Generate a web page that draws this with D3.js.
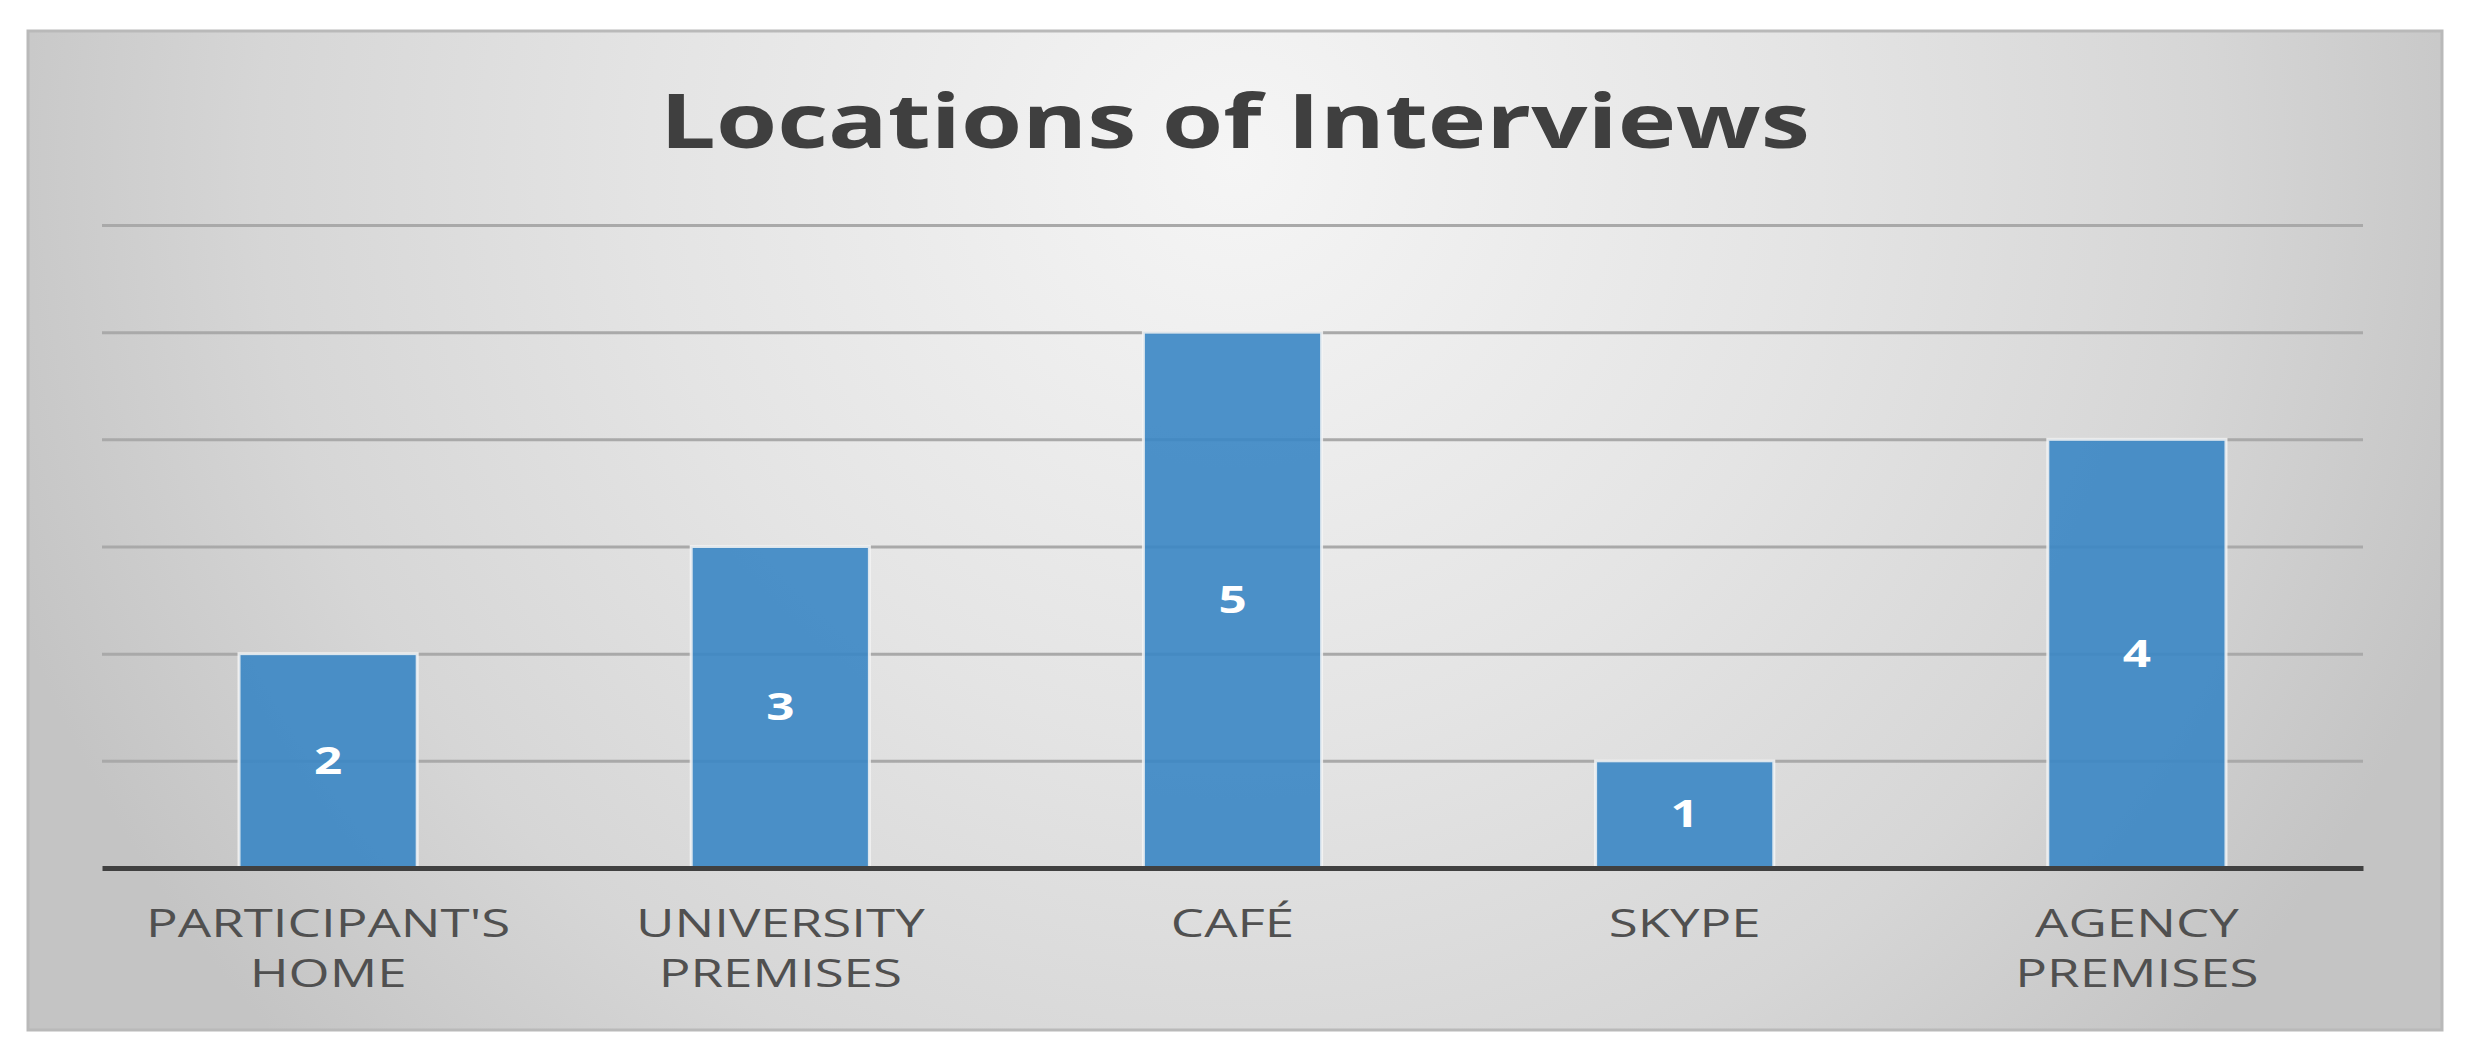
<!DOCTYPE html>
<html>
<head>
<meta charset="utf-8">
<script src="https://cdn.jsdelivr.net/npm/d3@7"></script>
<style>
  body { margin: 0; background: #ffffff; }
  .label text { font-family: "Open Sans", sans-serif; }
</style>
</head>
<body>
<div class="chart"></div>
<script>
var svgWidth = 2470;
var svgHeight = 1048;

// chart data
var categories = ["PARTICIPANT'S HOME", "UNIVERSITY PREMISES", "CAFÉ", "SKYPE", "AGENCY PREMISES"];
var labelLines = [["PARTICIPANT'S", "HOME"], ["UNIVERSITY", "PREMISES"], ["CAFÉ"], ["SKYPE"], ["AGENCY", "PREMISES"]];
var counts = [2, 3, 5, 1, 4];
var yTicks = [0, 1, 2, 3, 4, 5, 6];

var frame = { left: 28, top: 31, right: 2442, bottom: 1030 };
var plot = { left: 102, right: 2363, top: 225, bottom: 868 };
var textStretch = 1.39;

var svg = d3.select(".chart")
  .append("svg")
  .attr("width", svgWidth)
  .attr("height", svgHeight);

// background gradient of the chart area (light near the title, greyer at the sides)
var defs = svg.append("defs");
var grad = defs.append("radialGradient")
  .attr("id", "bg")
  .attr("gradientUnits", "userSpaceOnUse")
  .attr("cx", 1235)
  .attr("cy", 160)
  .attr("r", 1300);
grad.append("stop").attr("offset", "0%").attr("stop-color", "#f5f5f5");
grad.append("stop").attr("offset", "45%").attr("stop-color", "#e4e4e4");
grad.append("stop").attr("offset", "75%").attr("stop-color", "#d6d6d6");
grad.append("stop").attr("offset", "100%").attr("stop-color", "#c4c4c4");

svg.append("rect")
  .attr("x", frame.left)
  .attr("y", frame.top)
  .attr("width", frame.right - frame.left)
  .attr("height", frame.bottom - frame.top)
  .attr("fill", "url(#bg)")
  .attr("stroke", "#b9b9b9")
  .attr("stroke-width", 3);

// scales
var x = d3.scaleBand()
  .domain(categories)
  .range([plot.left, plot.right])
  .paddingInner(0.606)
  .paddingOuter(0.303);

var y = d3.scaleLinear()
  .domain([0, 6])
  .range([plot.bottom, plot.top]);

// gridlines
var grid = svg.append("g")
  .attr("transform", `translate(${plot.left}, 0)`)
  .call(d3.axisLeft(y)
    .tickValues(yTicks.slice(1))
    .tickSize(-(plot.right - plot.left))
    .tickFormat(""));
grid.select(".domain").remove();
grid.selectAll("line")
  .attr("stroke", "#a9a9a9")
  .attr("stroke-width", 3);

// bars
svg.selectAll(".bar")
  .data(counts)
  .enter()
  .append("rect")
  .attr("class", "bar")
  .attr("x", (d, i) => x(categories[i]))
  .attr("y", d => y(d))
  .attr("width", x.bandwidth())
  .attr("height", d => y(0) - y(d))
  .attr("fill", "#3a86c4")
  .attr("fill-opacity", 0.9)
  .attr("stroke", "#f4f4f4")
  .attr("stroke-opacity", 0.85)
  .attr("stroke-width", 3);

// value labels in the middle of each bar
svg.selectAll(".value")
  .data(counts)
  .enter()
  .append("text")
  .attr("class", "value")
  .attr("transform", (d, i) => `translate(${x(categories[i]) + x.bandwidth() / 2}, ${(y(d) + y(0)) / 2 + 13}) scale(1.3, 1)`)
  .attr("text-anchor", "middle")
  .attr("font-family", "'Open Sans', sans-serif")
  .attr("font-weight", "bold")
  .attr("font-size", 38)
  .attr("fill", "#ffffff")
  .text(d => d);

// x axis
var xAxis = svg.append("g")
  .attr("class", "label")
  .attr("transform", `translate(0, ${plot.bottom})`)
  .call(d3.axisBottom(x).tickSize(0).tickFormat(""));
xAxis.select(".domain")
  .attr("stroke", "#404040")
  .attr("stroke-width", 5);

xAxis.selectAll(".tick text").remove();
xAxis.selectAll(".tick").each(function(d, i) {
  var t = d3.select(this).append("text")
    .attr("transform", `scale(${textStretch}, 1)`)
    .attr("text-anchor", "middle")
    .attr("font-size", 38)
    .attr("fill", "#505050");
  labelLines[i].forEach(function(line, j) {
    t.append("tspan")
      .attr("x", 0)
      .attr("y", 69 + j * 50)
      .text(line);
  });
});

// title
var title = svg.append("text")
  .attr("text-anchor", "middle")
  .attr("font-family", "'Open Sans', sans-serif")
  .attr("font-weight", "bold")
  .attr("font-size", 76)
  .attr("fill", "#3f3f3f")
  .text("Locations of Interviews");
var titleScale = 1150 / title.node().getComputedTextLength();
title.attr("transform", `translate(${(frame.left + frame.right) / 2}, 148) scale(${titleScale}, 1)`);
</script>
</body>
</html>
